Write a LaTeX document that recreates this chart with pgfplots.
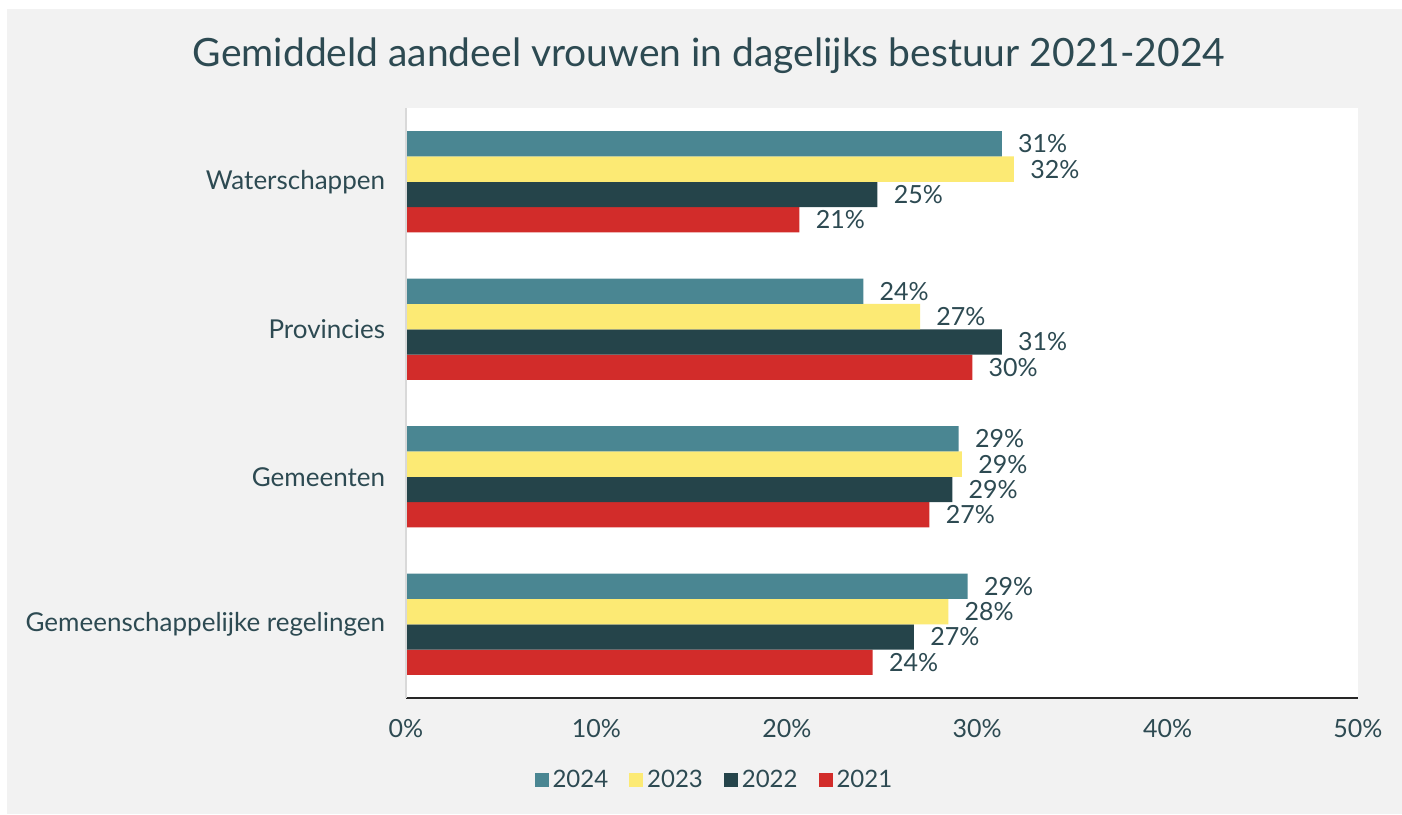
\documentclass[border=0pt]{standalone}
\usepackage{pgfplots}
\pgfplotsset{compat=1.18}
\usepackage{fontspec}
\setmainfont{Lato}
\definecolor{textcol}{HTML}{2D4A52}
\definecolor{bg}{HTML}{F2F2F2}
\definecolor{cA}{HTML}{4A8692}
\definecolor{cB}{HTML}{FCEA74}
\definecolor{cC}{HTML}{25444A}
\definecolor{cD}{HTML}{D22C2A}
\begin{document}
\begin{tikzpicture}
\fill[white] (0pt,0pt) rectangle (701pt,407pt);
\fill[bg] (3.5pt,0pt) rectangle (701pt,402.5pt);
\node[anchor=base, text=textcol, font=\fontsize{19.5}{22}\selectfont, inner sep=0pt] at (354.5pt,373.5pt) {Gemiddeld aandeel vrouwen in dagelijks bestuur 2021-2024};
\begin{axis}[
  at={(203pt,58pt)}, anchor=south west,
  scale only axis, width=476pt, height=295pt,
  xbar=0pt, bar width=12.65pt,
  xmin=0, xmax=50, ymin=-0.5, ymax=3.5,
  enlargelimits=false,
  axis background/.style={fill=white},
  axis line style={draw=none},
  tick style={draw=none},
  xtick={0,10,20,30,40,50},
  xticklabels={0\%,10\%,20\%,30\%,40\%,50\%},
  ytick={0,1,2,3},
  yticklabels={Gemeenschappelijke regelingen, Gemeenten, Provincies, Waterschappen},
  xticklabel style={font=\fontsize{12.5}{15}\selectfont, text=textcol, inner sep=0pt, anchor=north, yshift=-10.5pt},
  yticklabel style={font=\fontsize{13}{15}\selectfont, text=textcol, inner sep=0pt, anchor=east, xshift=-6pt},
  point meta=explicit symbolic,
  nodes near coords={\pgfplotspointmeta\%},
  nodes near coords style={font=\fontsize{12.5}{15}\selectfont, text=textcol, anchor=west, inner sep=0pt, xshift=8pt},
  clip=false,
  reverse legend,
  legend columns=4,
  legend style={draw=none, fill=none, font=\fontsize{12}{14}\selectfont, text=textcol,
    at={(axis description cs:0.325,-0.139)}, anchor=center,
    /tikz/every even column/.append style={column sep=8.5pt},
    nodes={inner sep=2pt}},
  legend image code/.code={\fill[#1] (0pt,-3.5pt) rectangle (7pt,3.5pt);},
]
\addplot[fill=cD, draw=none] coordinates {(24.51,0)[24] (27.49,1)[27] (29.74,2)[30] (20.66,3)[21]};
\addplot[fill=cC, draw=none] coordinates {(26.68,0)[27] (28.69,1)[29] (31.29,2)[31] (24.76,3)[25]};
\addplot[fill=cB, draw=none] coordinates {(28.48,0)[28] (29.2,1)[29] (27.0,2)[27] (31.93,3)[32]};
\addplot[fill=cA, draw=none] coordinates {(29.5,0)[29] (29.03,1)[29] (24.02,2)[24] (31.29,3)[31]};
\legend{2021,2022,2023,2024}
\draw[black!85, line width=1pt] (axis description cs:0,0) -- (axis description cs:1,0);
\draw[black!15, line width=1pt] (axis description cs:0,0) -- (axis description cs:0,1);
\end{axis}
\end{tikzpicture}
\end{document}
